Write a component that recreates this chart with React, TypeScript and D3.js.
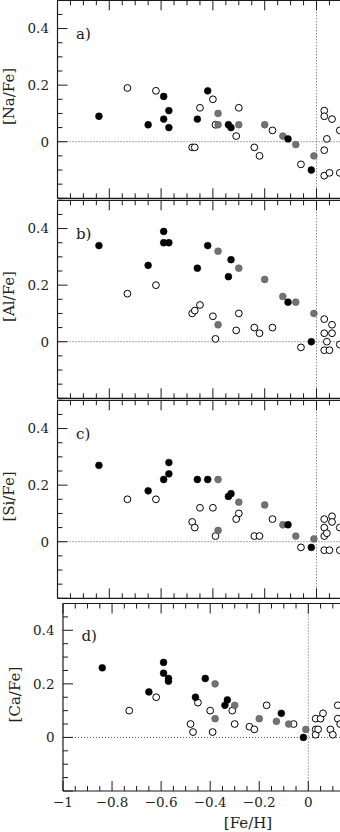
import React from 'react';
import * as d3 from 'd3';

// ---------- data ----------
const xTickLabels = [-1, -0.8, -0.6, -0.4, -0.2, 0];
const yTickLabels = [0, 0.2, 0.4];
const panelLetters = ['a)', 'b)', 'c)', 'd)'];
const yTitles = ['[Na/Fe]', '[Al/Fe]', '[Si/Fe]', '[Ca/Fe]'];

const naBlack = [[-0.84,0.09],[-0.65,0.06],[-0.59,0.16],[-0.59,0.08],[-0.57,0.11],[-0.57,0.05],[-0.46,0.08],[-0.42,0.18],[-0.34,0.06],[-0.33,0.05],[-0.11,0.01],[-0.02,-0.10]];
const naGray = [[-0.38,0.10],[-0.38,0.06],[-0.30,0.06],[-0.20,0.06],[-0.13,0.02],[-0.08,-0.01],[-0.01,-0.05]];
const naOpen = [[-0.73,0.19],[-0.62,0.18],[-0.48,-0.02],[-0.47,-0.02],[-0.45,0.12],[-0.40,0.15],[-0.39,0.06],[-0.31,0.02],[-0.30,0.12],[-0.24,-0.02],[-0.22,-0.05],[-0.17,0.04],[-0.06,-0.08],[0.03,0.11],[0.03,0.09],[0.06,0.08],[0.04,0.01],[0.03,-0.03],[0.03,-0.12],[0.05,-0.11],[0.09,-0.11],[0.09,0.04]];

const alBlack = [[-0.84,0.34],[-0.65,0.27],[-0.59,0.39],[-0.59,0.35],[-0.57,0.35],[-0.46,0.26],[-0.42,0.34],[-0.33,0.29],[-0.34,0.23],[-0.11,0.14],[-0.02,0.00]];
const alGray = [[-0.38,0.32],[-0.38,0.06],[-0.30,0.26],[-0.20,0.22],[-0.13,0.16],[-0.08,0.14],[-0.01,0.10]];
const alOpen = [[-0.73,0.17],[-0.62,0.20],[-0.48,0.10],[-0.47,0.11],[-0.45,0.13],[-0.40,0.09],[-0.39,0.01],[-0.30,0.10],[-0.31,0.04],[-0.24,0.05],[-0.22,0.03],[-0.17,0.05],[-0.06,-0.02],[0.03,0.08],[0.03,0.03],[0.03,-0.03],[0.06,0.06],[0.06,0.03],[0.04,0.00],[0.05,-0.03],[0.09,-0.01]];

const siBlack = [[-0.84,0.27],[-0.65,0.18],[-0.59,0.22],[-0.57,0.24],[-0.57,0.28],[-0.46,0.22],[-0.42,0.22],[-0.34,0.16],[-0.33,0.17],[-0.11,0.06],[-0.02,-0.02]];
const siGray = [[-0.38,0.22],[-0.38,0.04],[-0.30,0.14],[-0.20,0.13],[-0.13,0.06],[-0.08,0.02],[-0.01,0.01]];
const siOpen = [[-0.73,0.15],[-0.62,0.15],[-0.48,0.07],[-0.47,0.05],[-0.45,0.12],[-0.40,0.12],[-0.39,0.02],[-0.30,0.10],[-0.31,0.08],[-0.24,0.02],[-0.22,0.02],[-0.17,0.08],[-0.06,-0.02],[0.03,0.08],[0.03,0.05],[0.03,0.02],[0.04,0.03],[0.03,-0.03],[0.05,-0.03],[0.06,0.09],[0.06,0.07],[0.09,-0.03],[0.09,0.05]];

const caBlack = [[-0.84,0.26],[-0.65,0.17],[-0.59,0.28],[-0.59,0.24],[-0.57,0.22],[-0.57,0.21],[-0.46,0.15],[-0.42,0.22],[-0.34,0.12],[-0.33,0.14],[-0.11,0.09],[-0.02,0.00]];
const caGray = [[-0.38,0.20],[-0.38,0.07],[-0.30,0.12],[-0.20,0.07],[-0.13,0.06],[-0.08,0.05],[-0.01,0.03]];
const caOpen = [[-0.73,0.10],[-0.62,0.15],[-0.48,0.05],[-0.47,0.02],[-0.45,0.13],[-0.40,0.10],[-0.39,0.02],[-0.31,0.10],[-0.30,0.05],[-0.24,0.04],[-0.22,0.03],[-0.17,0.12],[-0.06,0.05],[0.03,0.07],[0.03,0.03],[0.03,0.01],[0.04,0.03],[0.05,0.07],[0.06,0.09],[0.09,0.03],[0.10,0.01],[0.12,0.12],[0.12,0.07],[0.13,0.05]];

const blackSets = [naBlack, alBlack, siBlack, caBlack];
const graySets = [naGray, alGray, siGray, caGray];
const openSets = [naOpen, alOpen, siOpen, caOpen];

// ---------- layout ----------
const geo = [
  { left: 57.5, x0: 316.5, top: 0.3, bottom: 198.3, titleX: 9 },
  { left: 57.5, x0: 316.5, top: 200.3, bottom: 398.3, titleX: 9 },
  { left: 57.5, x0: 316.5, top: 400.3, bottom: 598.3, titleX: 9 },
  { left: 63, x0: 308.3, top: 603.5, bottom: 791, titleX: 15 },
];
const FONT = '"DejaVu Serif", "Liberation Serif", serif';
const R = 3.4;
const isMajor = (v: number) => Math.abs(v / 0.2 - Math.round(v / 0.2)) < 1e-6;

function Panel({ i }: { i: number }) {
  const g = geo[i];
  const x = d3.scaleLinear().domain([-1, 0]).range([g.left, g.x0]);
  const y = d3.scaleLinear().domain([-0.2, 0.5]).range([g.bottom, g.top]);
  const xRight = x(0.25);
  const xt = d3.range(-1, 0.2501, 0.05).map((v) => +v.toFixed(2));
  const yt = d3.range(-0.2, 0.5001, 0.05).map((v) => +v.toFixed(2));
  const stroke = '#1a1a1a';
  return (
    <g>
      {/* zero lines */}
      <line x1={g.left} x2={xRight} y1={y(0)} y2={y(0)} stroke="#555" strokeWidth={1} strokeDasharray="1,2" />
      <line x1={x(0)} x2={x(0)} y1={g.top} y2={g.bottom} stroke="#555" strokeWidth={1} strokeDasharray="1,2" />
      {/* frame */}
      <line x1={g.left} x2={xRight} y1={g.top} y2={g.top} stroke={stroke} strokeWidth={1.2} />
      <line x1={g.left} x2={xRight} y1={g.bottom} y2={g.bottom} stroke={stroke} strokeWidth={1.2} />
      <line x1={g.left} x2={g.left} y1={g.top} y2={g.bottom} stroke={stroke} strokeWidth={1.2} />
      {/* x ticks */}
      {xt.map((v) => {
        const L = isMajor(v) ? 10 : 5;
        return (
          <g key={'xt' + v}>
            <line x1={x(v)} x2={x(v)} y1={g.top} y2={g.top + L} stroke={stroke} strokeWidth={1} />
            <line x1={x(v)} x2={x(v)} y1={g.bottom} y2={g.bottom - L} stroke={stroke} strokeWidth={1} />
          </g>
        );
      })}
      {/* y ticks */}
      {yt.map((v) => {
        const L = isMajor(v) ? 10 : 5;
        return <line key={'yt' + v} x1={g.left} x2={g.left + L} y1={y(v)} y2={y(v)} stroke={stroke} strokeWidth={1} />;
      })}
      {yTickLabels.map((v) => (
        <text key={'yl' + v} x={g.left - 8.5} y={y(v)} dy="0.36em" textAnchor="end" fontSize={13.5} fontFamily={FONT} fill="#222">
          {v === 0 ? '0' : v.toFixed(1)}
        </text>
      ))}
      {i === 3 &&
        xTickLabels.map((v) => (
          <text key={'xl' + v} x={x(v)} y={807} textAnchor="middle" fontSize={13.5} fontFamily={FONT} fill="#222">
            {v === 0 ? '0' : v === -1 ? '\u22121' : '\u2212' + Math.abs(v).toFixed(1)}
          </text>
        ))}
      <text x={g.left + 18.5} y={y(0.4) + 10.5} fontSize={15} fontFamily={FONT} fill="#222">{panelLetters[i]}</text>
      <text transform={`translate(${g.titleX},${y(0.16)}) rotate(-90)`} textAnchor="middle" dy="0.36em" fontSize={15} fontFamily={FONT} fill="#222">
        {yTitles[i]}
      </text>
      {/* points */}
      {openSets[i].map((d, k) => (
        <circle key={'o' + k} cx={x(d[0])} cy={y(d[1])} r={R} fill="#fff" stroke="#000" strokeWidth={1} />
      ))}
      {graySets[i].map((d, k) => (
        <circle key={'g' + k} cx={x(d[0])} cy={y(d[1])} r={R} fill="#737373" stroke="#5a5a5a" strokeWidth={0.6} />
      ))}
      {blackSets[i].map((d, k) => (
        <circle key={'b' + k} cx={x(d[0])} cy={y(d[1])} r={R} fill="#000" stroke="#000" strokeWidth={0.6} />
      ))}
    </g>
  );
}

export default function App() {
  return (
    <svg width={340} height={832} style={{ position: 'absolute', left: 0, top: 0, background: '#fff' }}>
      <rect x={0} y={0} width={340} height={832} fill="#fff" />
      {[0, 1, 2, 3].map((i) => (
        <Panel key={i} i={i} />
      ))}
      <text x={248} y={828} textAnchor="middle" fontSize={15} fontFamily={FONT} fill="#222">[Fe/H]</text>
    </svg>
  );
}
